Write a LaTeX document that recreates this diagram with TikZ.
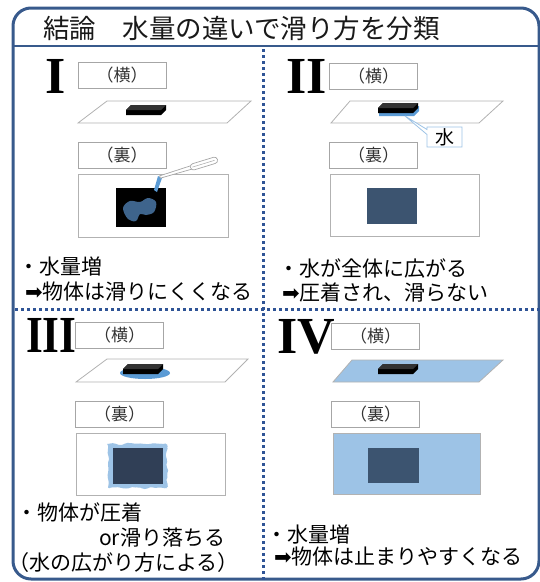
\documentclass[tikz,border=0pt]{standalone}
\usepackage{fontspec}
\setmainfont{Noto Sans CJK JP}
\newfontfamily\numfont{Liberation Serif}
\newfontfamily\symfont{DejaVu Sans}
\usetikzlibrary{shapes.callouts,decorations.pathmorphing}

\definecolor{framecol}{RGB}{56,90,140}
\definecolor{dotcol}{RGB}{47,84,150}
\definecolor{waterlight}{RGB}{157,195,230}
\definecolor{waterblue}{RGB}{91,155,213}
\definecolor{sqdark}{RGB}{60,84,112}
\definecolor{sqdeep}{RGB}{48,63,86}
\definecolor{blobcol}{RGB}{62,100,140}

\begin{document}
\begin{tikzpicture}[x=1pt,y=-1pt]
		\tikzset{tag/.style={draw=gray!70,fill=white,minimum width=88pt,minimum height=26pt,inner sep=0pt,text=black!80,font=\fontsize{17}{17}\selectfont},
			plate/.style={draw=gray!60,fill=white,line width=0.8pt},
			note/.style={anchor=west,inner sep=0pt,font=\fontsize{21}{24}\selectfont},
			numeral/.style={anchor=base west,inner sep=0pt,font=\fontsize{52}{52}\numfont\bfseries},
			divider/.style={dotcol,line width=3pt,dash pattern=on 3pt off 3pt},
			slab/.pic={\fill[black] (0,0) -- (0,-5) -- (5,-10) -- (40,-10) -- (40,-5) -- (35,0) -- cycle;
				\fill[black!80] (0,-5) -- (5,-10) -- (40,-10) -- (35,-5) -- cycle;}};
		\useasboundingbox (0,0) rectangle (540,582);
		\pgfmathsetseed{7}
		% frame and title
		\draw[framecol,line width=3pt,rounded corners=18pt] (13,8) rectangle (539,579);
		\draw[framecol,line width=2.5pt] (13,46) -- (540,46);
		\node[anchor=west,inner sep=0pt,text=black!90,font=\fontsize{26.5}{28}\selectfont] (title) at (43,28) {結論　水量の違いで滑り方を分類};
		\draw[divider] (263,49) -- (263,582);
		\draw[divider] (15,309) -- (540,309);
		% I
		\node[numeral] (n1) at (45,93) {I};
		\node[tag] (side1) at (122,75.5) {（横）};
		\draw[plate] (107,101) -- (251,101) -- (227,123) -- (78,123) -- cycle;
		\pic at (126,115) {slab};
		\node[tag] (back1) at (122,155.5) {（裏）};
		\draw[plate] (78,174) rectangle (228,237);
		\fill[black] (116,188) rectangle (166,227);
		\fill[blobcol] plot[smooth cycle,tension=0.6] coordinates {(123,208) (130,201) (140,202) (148,198) (156,202) (154,212) (146,215) (140,214) (136,221) (128,219)};
		\fill[waterblue] (158,176) -- (162,178) -- (157,192) -- (154,190) -- cycle;
		\begin{scope}[shift={(160,177)},rotate=17]
			\draw[gray!70,fill=white,line width=0.7pt] (0,-1.2) -- (34,-1.8) -- (34,1.8) -- (0,1.2) -- cycle;
			\draw[gray!70,fill=white,line width=0.7pt,rounded corners=3pt] (32,-3.2) rectangle (60,3.2);
			\draw[gray!70,line width=0.5pt] (34,0) -- (57,0);
		\end{scope}
		\node[note] (t1a) at (18,267) {・水量増};
		\node[note] (t1b) at (25,292) {{\symfont ➡}物体は滑りにくくなる};
		% II
		\node[numeral] (n2) at (286,93) {II};
		\node[tag] (side2) at (373.5,76) {（横）};
		\draw[plate] (350,101) -- (503,101) -- (479,123) -- (331,123) -- cycle;
		\fill[waterblue] (379,116) -- (379,111) -- (384,106) -- (419,106) -- (419,111) -- (414,116) -- cycle;
		\pic at (378,113) {slab};
		\coordinate (wet) at (405,116);
		\node[rectangle callout,draw=waterlight,fill=white,line width=0.8pt,callout absolute pointer=(wet),callout pointer width=5pt,minimum width=35pt,minimum height=20pt,inner sep=0pt,font=\fontsize{19}{19}\selectfont] (water) at (444.5,137) {水};
		\node[tag] (back2) at (373.5,155.5) {（裏）};
		\draw[plate] (330,174) rectangle (479,236);
		\fill[sqdark] (367,188) rectangle (417,224);
		\node[note] (t2a) at (278,268) {・水が全体に広がる};
		\node[note] (t2b) at (282,292) {{\symfont ➡}圧着され、滑らない};
		% III
		\node[numeral,xscale=0.83] (n3) at (26,352) {III};
		\node[tag] (side3) at (119.5,335) {（横）};
		\draw[plate] (107,359) -- (248,359) -- (225,382) -- (76,382) -- cycle;
		\fill[waterblue] (145,373) ellipse [x radius=25,y radius=6];
		\pic at (123,374) {slab};
		\node[tag] (back3) at (119.5,414.5) {（裏）};
		\draw[plate] (76,433) rectangle (225,495);
		\fill[waterlight,decorate,decoration={random steps,segment length=3pt,amplitude=1.2pt},rounded corners=1.5pt] (108,444) rectangle (167,488);
		\fill[sqdeep] (113,448) rectangle (163,484);
		\node[note] (t3a) at (16,512) {・物体が圧着};
		\node[note] (t3b) at (99,538) {or滑り落ちる};
		\node[note] (t3c) at (8,563) {（水の広がり方による）};
		% IV
		\node[numeral] (n4) at (277,353) {IV};
		\node[tag] (side4) at (375.5,336.5) {（横）};
		\draw[plate,fill=waterlight] (352,360) -- (503,360) -- (479,382) -- (333,382) -- cycle;
		\pic at (378,374) {slab};
		\node[tag] (back4) at (375.5,414.5) {（裏）};
		\draw[plate,fill=waterlight] (333,433) rectangle (480,494);
		\fill[sqdark] (368,448) rectangle (419,483);
		\node[note] (t4a) at (266,535) {・水量増};
		\node[note] (t4b) at (274,557) {{\symfont ➡}物体は止まりやすくなる};
	\end{tikzpicture}
\end{document}
